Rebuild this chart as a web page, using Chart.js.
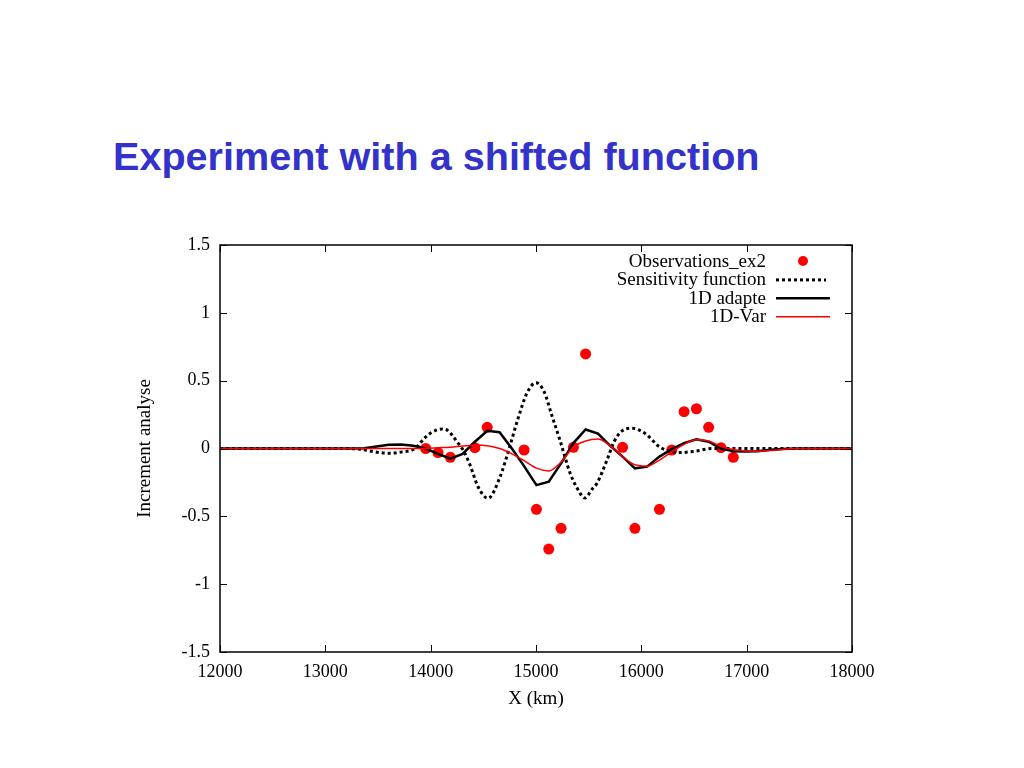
<!DOCTYPE html>
<html>
<head>
<meta charset="utf-8">
<title>Experiment with a shifted function</title>
<script src="https://cdn.jsdelivr.net/npm/chart.js@4.4.1/dist/chart.umd.min.js"></script>
<style>
  html, body { margin: 0; padding: 0; background: #fff; }
  body { width: 1024px; height: 768px; position: relative; overflow: hidden; }
  #title {
    position: absolute; left: 113px; top: 137px;
    font-family: "Liberation Sans", Arial, sans-serif; font-weight: bold;
    font-size: 39.6px; line-height: 39.6px; color: #3333cc; white-space: nowrap;
  }
  #wrap { position: absolute; left: 0; top: 0; width: 1024px; height: 768px; }
</style>
</head>
<body>
<div id="title">Experiment with a shifted function</div>
<div id="wrap"><canvas id="chartIncrement"></canvas></div>
<script>
// observations
const obsX = [13953, 14070, 14187, 14420, 14537, 14887, 15004, 15121, 15238, 15355,
              15471, 15822, 15939, 16172, 16289, 16406, 16523, 16639, 16756, 16873];
const obsY = [0.0, -0.03, -0.065, 0.006, 0.156, -0.011, -0.448, -0.741, -0.588, 0.009,
              0.697, 0.009, -0.588, -0.448, -0.011, 0.271, 0.293, 0.156, 0.006, -0.065];

// sensitivity function
const sensX = [12000, 13139, 13329, 13472, 13595, 13728, 13851, 13946, 14013, 14108,
               14146, 14203, 14250, 14307, 14373, 14449, 14544, 14658, 14753, 14829,
               14915, 15000, 15076, 15152, 15228, 15323, 15389, 15465, 15532, 15579,
               15674, 15741, 15817, 15912, 16054, 16149, 16225, 16367, 16510, 16671, 18000];
const sensY = [0, 0, -0.005, -0.025, -0.035, -0.025, 0, 0.08, 0.12, 0.144,
               0.14, 0.1, 0.05, -0.01, -0.12, -0.28, -0.367, -0.21, 0.02, 0.22,
               0.41, 0.485, 0.42, 0.24, 0.06, -0.18, -0.29, -0.365, -0.3, -0.256,
               -0.085, 0.05, 0.13, 0.149, 0.1, 0.026, -0.01, -0.03, -0.02, 0, 0];

// model grid for 1D adapte and 1D-Var
const gridX = [12000, 13252, 13369, 13486, 13603, 13720, 13836, 13953, 14070, 14187,
               14303, 14420, 14537, 14654, 14771, 14887, 15004, 15121, 15238, 15355,
               15471, 15588, 15705, 15822, 15939, 16055, 16172, 16289, 16406, 16523,
               16639, 16756, 16873, 16990, 17107, 17223, 17340, 17457, 18000];
const adapteY = [0, 0, 0.002, 0.015, 0.028, 0.03, 0.02, 0.0, -0.04, -0.075,
                 -0.04, 0.05, 0.13, 0.12, 0.0, -0.13, -0.27, -0.245, -0.11, 0.04,
                 0.14, 0.11, 0.02, -0.06, -0.146, -0.134, -0.06, -0.005, 0.04, 0.068,
                 0.05, 0.0, -0.02, -0.022, -0.02, -0.01, -0.003, 0, 0];
const varY = [0, 0, 0, 0, 0, 0, 0, 0.0, 0.005, 0.01,
              0.018, 0.025, 0.02, 0.0, -0.04, -0.09, -0.145, -0.165, -0.1, 0.01,
              0.055, 0.07, 0.02, -0.06, -0.12, -0.13, -0.085, -0.025, 0.03, 0.065,
              0.055, 0.015, -0.008, -0.018, -0.02, -0.015, -0.007, 0, 0];

const xTicks = [12000, 13000, 14000, 15000, 16000, 17000, 18000];
const xTickLabels = ['12000', '13000', '14000', '15000', '16000', '17000', '18000'];
const yTicks = [-1.5, -1, -0.5, 0, 0.5, 1, 1.5];
const yTickLabels = ['-1.5', '-1', '-0.5', '0', '0.5', '1', '1.5'];
const seriesNames = ['Observations_ex2', 'Sensitivity function', '1D adapte', '1D-Var'];

const toPoints = (xs, ys) => xs.map((v, i) => ({ x: v, y: ys[i] }));
const serif = '"Liberation Serif", "Times New Roman", serif';

// gnuplot-like frame, inward ticks and key
const framePlugin = {
  id: 'frame',
  afterDraw(chart) {
    const { ctx, chartArea: a, scales: { x, y } } = chart;
    ctx.save();
    ctx.strokeStyle = '#000';
    ctx.lineWidth = 1.5;
    ctx.strokeRect(a.left, a.top, a.right - a.left, a.bottom - a.top);
    ctx.lineWidth = 1;
    ctx.beginPath();
    xTicks.forEach(v => {
      const px = Math.round(x.getPixelForValue(v)) + 0.5;
      ctx.moveTo(px, a.bottom); ctx.lineTo(px, a.bottom - 7);
      ctx.moveTo(px, a.top); ctx.lineTo(px, a.top + 7);
    });
    yTicks.forEach(v => {
      const py = Math.round(y.getPixelForValue(v)) + 0.5;
      ctx.moveTo(a.left, py); ctx.lineTo(a.left + 7, py);
      ctx.moveTo(a.right, py); ctx.lineTo(a.right - 7, py);
    });
    ctx.stroke();

    // key
    ctx.font = '19px ' + serif;
    ctx.textAlign = 'right';
    ctx.textBaseline = 'middle';
    const tx = a.right - 86, s0 = a.right - 76, s1 = a.right - 22;
    seriesNames.forEach((name, i) => {
      const ry = a.top + 16 + 18.4 * i;
      ctx.fillStyle = '#000';
      ctx.fillText(name, tx, ry + 1);
      if (i === 0) {
        ctx.fillStyle = '#ff0000';
        ctx.beginPath(); ctx.arc((s0 + s1) / 2, ry, 5, 0, Math.PI * 2); ctx.fill();
      } else {
        ctx.beginPath();
        ctx.setLineDash(i === 1 ? [3, 3] : []);
        ctx.strokeStyle = i === 3 ? '#ff0000' : '#000';
        ctx.lineWidth = i === 3 ? 1.5 : (i === 1 ? 3 : 2.5);
        ctx.moveTo(s0, ry + 0.5); ctx.lineTo(i === 1 ? s1 - 4 : s1, ry + 0.5);
        ctx.stroke();
        ctx.setLineDash([]);
      }
    });
    ctx.restore();
  }
};

const ctx1 = document.getElementById('chartIncrement').getContext('2d');
const chartIncrement = new Chart(ctx1, {
  type: 'scatter',
  data: {
    datasets: [{
      label: seriesNames[0],
      data: toPoints(obsX, obsY),
      backgroundColor: '#ff0000',
      borderColor: '#ff0000',
      pointRadius: 5.5,
      pointBorderWidth: 0,
      showLine: false,
      order: 4
    }, {
      label: seriesNames[1],
      data: toPoints(sensX, sensY),
      borderColor: '#000',
      borderWidth: 3,
      borderDash: [3, 3],
      pointRadius: 0,
      showLine: true,
      cubicInterpolationMode: 'monotone',
      order: 3
    }, {
      label: seriesNames[2],
      data: toPoints(gridX, adapteY),
      borderColor: '#000',
      borderWidth: 2.5,
      pointRadius: 0,
      showLine: true,
      tension: 0,
      order: 2
    }, {
      label: seriesNames[3],
      data: toPoints(gridX, varY),
      borderColor: '#ff0000',
      borderWidth: 1.5,
      pointRadius: 0,
      showLine: true,
      cubicInterpolationMode: 'monotone',
      order: 1
    }]
  },
  options: {
    responsive: true,
    maintainAspectRatio: false,
    animation: false,
    layout: { padding: { left: 0, top: 245, right: 172, bottom: 0 } },
    plugins: { legend: { display: false }, tooltip: { enabled: false } },
    scales: {
      x: {
        type: 'linear',
        min: 12000,
        max: 18000,
        afterBuildTicks: s => { s.ticks = xTicks.map(v => ({ value: v })); },
        afterFit: s => { s.height = 116; },
        grid: { display: false, drawTicks: false },
        border: { display: false },
        ticks: {
          padding: 9,
          color: '#000',
          font: { family: serif, size: 18 },
          maxRotation: 0,
          callback: v => xTickLabels[xTicks.indexOf(v)]
        },
        title: {
          display: true,
          text: 'X (km)',
          color: '#000',
          font: { family: serif, size: 19 },
          padding: { top: 0, bottom: 58 }
        }
      },
      y: {
        type: 'linear',
        min: -1.5,
        max: 1.5,
        afterBuildTicks: s => { s.ticks = yTicks.map(v => ({ value: v })); },
        afterFit: s => { s.width = 220; },
        grid: { display: false, drawTicks: false },
        border: { display: false },
        ticks: {
          padding: 10,
          color: '#000',
          font: { family: serif, size: 18 },
          callback: v => yTickLabels[yTicks.indexOf(v)]
        },
        title: {
          display: true,
          text: 'Increment analyse',
          color: '#000',
          font: { family: serif, size: 19 },
          padding: { top: 134, bottom: 0 }
        }
      }
    }
  },
  plugins: [framePlugin]
});
</script>
</body>
</html>
